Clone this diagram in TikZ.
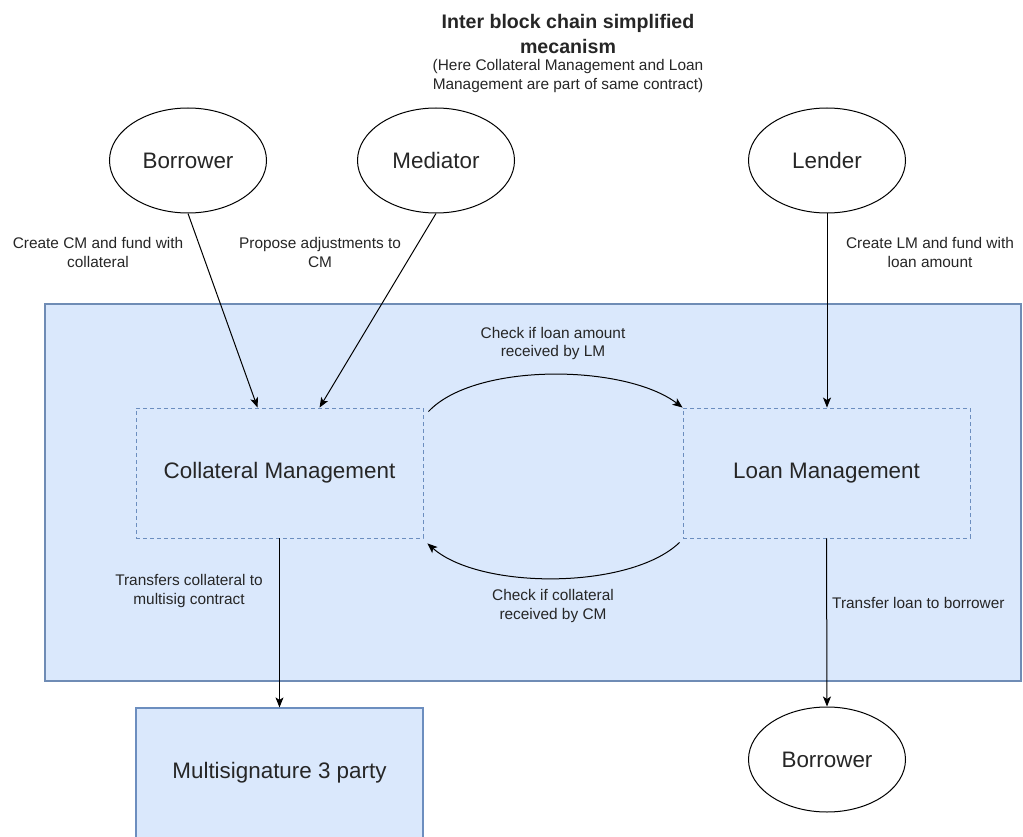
\documentclass[tikz,border=0pt]{standalone}
\usepackage{fontspec}
\setmainfont{Liberation Sans}
\usetikzlibrary{shapes.geometric,arrows.meta,calc}
\definecolor{bfill}{HTML}{DAE8FC}
\definecolor{bline}{HTML}{6C8EBF}
\definecolor{txt}{HTML}{262626}
\tikzset{
  actor/.style={draw=black, line width=1pt, ellipse, minimum width=157pt, minimum height=105pt, inner sep=0pt, text=txt, font=\fontsize{22.4}{26}\selectfont},
  dbox/.style={draw=bline, line width=0.9pt, dash pattern=on 4pt off 3pt, fill=bfill, minimum width=287pt, minimum height=130pt, inner sep=0pt, text=txt, font=\fontsize{22.4}{26}\selectfont},
  lbl/.style={align=center, text=txt, inner sep=0pt, font=\fontsize{15.4}{18.5}\selectfont},
  arr/.style={draw=black, line width=1pt, -{Stealth[length=10pt,width=8pt,inset=2.5pt]}},
}
\begin{document}
\begin{tikzpicture}[x=1pt,y=-1pt]
\useasboundingbox (0,0) rectangle (1023,837);
\fill[white] (0,0) rectangle (1023,837);
% container
\node[draw=bline!85!gray, line width=1.4pt, fill=bfill, minimum width=976pt, minimum height=377pt, inner sep=0pt] (main) at (533,492.5) {};
% title
\node[lbl, font=\bfseries\fontsize{19.6}{24.5}\selectfont] (title) at (568,34) {Inter block chain simplified\\mecanism};
\node[lbl] (sub) at (568,76) {(Here Collateral Management and Loan\\Management are part of same contract)};
% actors
\node[actor] (bor) at (188,160.5) {Borrower};
\node[actor] (med) at (436,160.5) {Mediator};
\node[actor] (len) at (827,160.5) {Lender};
\node[actor] (bor2) at (827,759.5) {Borrower};
% management boxes
\node[dbox] (cm) at (279.5,473) {Collateral Management};
\node[dbox] (lm) at (826.5,473) {Loan Management};
% multisig
\node[draw=bline, line width=1.2pt, fill=bfill, minimum width=287pt, minimum height=130pt, inner sep=0pt, text=txt, font=\fontsize{22.4}{26}\selectfont] (ms) at (279.5,773) {Multisignature 3 party};
% connectors
\draw[arr] (bor.south) -- ([xshift=122pt]cm.north west);
\draw[arr] (med.south) -- ([xshift=184pt]cm.north west);
\draw[arr] (len.south) -- (len.south |- lm.north);
\draw[arr] (cm.south) -- (ms.north);
\draw[arr] (lm.south) -- (bor2.north);
\draw[arr] ([shift={(5,4)}]cm.north east) .. controls (475,362) and (625,364) .. (lm.north west);
\draw[arr] ([shift={(-3,4)}]lm.south west) .. controls (630,590) and (480,590) .. ([shift={(4,5)}]cm.south east);
% labels
\node[lbl] (l1) at (98,252.5) {Create CM and fund with\\collateral};
\node[lbl] (l2) at (320,252.5) {Propose adjustments to\\CM};
\node[lbl] (l3) at (930,252.5) {Create LM and fund with\\loan amount};
\node[lbl] (l4) at (553,343.5) {Check if loan amount\\received by LM};
\node[lbl] (l5) at (553,606) {Check if collateral\\received by CM};
\node[lbl] (l6) at (189,591) {Transfers collateral to\\multisig contract};
\node[lbl, anchor=west] (l7) at (832,603) {Transfer loan to borrower};
\end{tikzpicture}
\end{document}
